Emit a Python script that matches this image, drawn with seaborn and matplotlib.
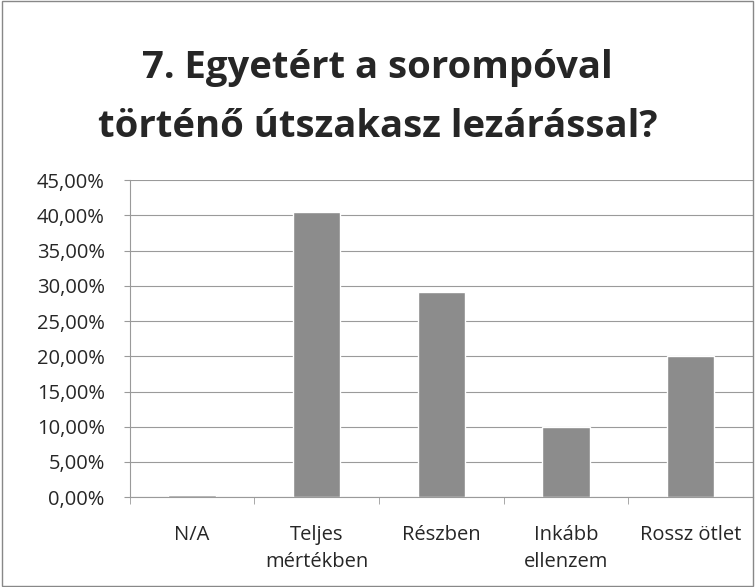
import matplotlib
matplotlib.use("Agg")
import matplotlib.pyplot as plt
import seaborn as sns
import pandas as pd
from matplotlib.ticker import FuncFormatter, MultipleLocator
from matplotlib.patches import Rectangle

categories = ["N/A", "Teljes\nmértékben", "Részben", "Inkább\nellenzem", "Rossz ötlet"]
values = [0.3, 40.5, 29.1, 9.9, 20.0]
title = "7. Egyetért a sorompóval\ntörténő útszakasz lezárással?"

df = pd.DataFrame({"kat": categories, "ertek": values})

sns.set_style("white")
plt.rcParams["font.family"] = ["Open Sans", "DejaVu Sans"]

fig = plt.figure(figsize=(7.55, 5.87), dpi=100)
ax = fig.add_axes([0.172, 0.153, 0.825, 0.54])

sns.barplot(data=df, x="kat", y="ertek", color="#8c8c8c", width=0.38,
            saturation=1, ax=ax)

ax.set_ylim(0, 45)
ax.yaxis.set_major_locator(MultipleLocator(5))
ax.yaxis.set_major_formatter(FuncFormatter(lambda v, p: f"{v:.2f}%".replace(".", ",")))
ax.set_xlim(-0.5, len(categories) - 0.5)
ax.grid(axis="y", color="#9a9a9a", linewidth=0.8)
ax.set_axisbelow(True)
ax.set_xlabel("")
ax.set_ylabel("")
for s in ["top", "right"]:
    ax.spines[s].set_visible(False)
ax.spines["left"].set_color("#9a9a9a")
ax.spines["bottom"].set_color("#9a9a9a")
ax.tick_params(axis="y", labelsize=14.5, length=4, color="#9a9a9a", left=True, pad=14)
ax.tick_params(axis="x", labelsize=14.5, length=0, pad=20)
for lbl in ax.get_xticklabels():
    lbl.set_linespacing(1.45)
# category boundary ticks
ax.set_xticks([i - 0.5 for i in range(len(categories) + 1)], minor=True)
ax.tick_params(axis="x", which="minor", length=5, color="#9a9a9a", bottom=True)

fig.text(0.5, 0.834, title, ha="center", va="center", fontsize=27.5,
         fontweight="bold", linespacing=1.7)
fig.patches.append(Rectangle((0.002, 0.002), 0.996, 0.996, transform=fig.transFigure,
                             fill=False, edgecolor="#888888", linewidth=1))

fig.savefig("out.png", dpi=100)
